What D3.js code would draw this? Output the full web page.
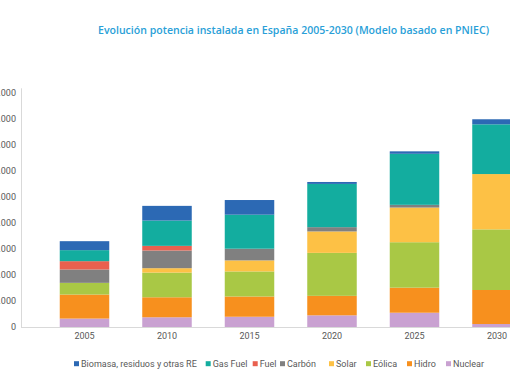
<!DOCTYPE html>
<html>
<head>
<meta charset="utf-8">
<script src="https://cdn.jsdelivr.net/npm/d3@7/dist/d3.min.js"></script>
<style>
  html, body { margin: 0; padding: 0; background: #ffffff; }
  svg { display: block; }
</style>
</head>
<body>
<svg id="chart" width="510" height="382"></svg>
<script>
const years = ["2005", "2010", "2015", "2020", "2025", "2030"];
const seriesNames = ["Nuclear", "Hidro", "Eólica", "Solar", "Carbón", "Fuel", "Gas Fuel", "Biomasa, residuos y otras RE"];
const nuclear  = [6500, 7500, 7900, 9000, 11000, 2300];
const hidro    = [18500, 15400, 15600, 15000, 19300, 26200];
const eolica   = [9000, 19000, 19300, 33100, 35000, 46700];
const solar    = [0, 3400, 8500, 16500, 26700, 42600];
const carbon   = [10300, 13600, 9000, 3300, 2100, 0];
const fuel     = [6400, 3600, 0, 0, 0, 0];
const gasFuel  = [8500, 19500, 26200, 33300, 39300, 38300];
const biomasa  = [6900, 11300, 11300, 1500, 1900, 3900];
const yTicks = [0, 20000, 40000, 60000, 80000, 100000, 120000, 140000, 160000, 180000];
const legendOrder = ["Biomasa, residuos y otras RE", "Gas Fuel", "Fuel", "Carbón", "Solar", "Eólica", "Hidro", "Nuclear"];
const titleText = "Evolución potencia instalada en España 2005-2030 (Modelo basado en PNIEC)";

const colors = {
  "Nuclear": "#c9a1d1",
  "Hidro": "#f7901e",
  "Eólica": "#a9c845",
  "Solar": "#fdc145",
  "Carbón": "#808080",
  "Fuel": "#e9604f",
  "Gas Fuel": "#13ad9f",
  "Biomasa, residuos y otras RE": "#2c69b4"
};

const valuesBySeries = [nuclear, hidro, eolica, solar, carbon, fuel, gasFuel, biomasa];
const table = years.map((yr, i) => {
  const row = { year: yr };
  seriesNames.forEach((s, j) => { row[s] = valuesBySeries[j][i]; });
  return row;
});

const svg = d3.select("#chart");
const textColor = "#595959";

const x = d3.scaleBand().domain(years).range([43.25, 538.25]).paddingInner(0.4).paddingOuter(0.2);
const y = d3.scaleLinear().domain([0, 180000]).range([327, 93.3]);

const stack = d3.stack().keys(seriesNames);
const stacked = stack(table);

// bars
svg.append("g").selectAll("g")
  .data(stacked)
  .join("g")
  .attr("fill", d => colors[d.key])
  .selectAll("rect")
  .data(d => d)
  .join("rect")
  .attr("x", d => x(d.data.year))
  .attr("width", x.bandwidth())
  .attr("y", d => y(d[1]))
  .attr("height", d => Math.max(0, y(d[0]) - y(d[1])));

// y axis line
svg.append("line")
  .attr("x1", 21.5).attr("x2", 21.5)
  .attr("y1", y(180000) - 5).attr("y2", y(0))
  .attr("stroke", "#d9d9d9").attr("stroke-width", 1);

// baseline
svg.append("line")
  .attr("x1", 21).attr("x2", 510)
  .attr("y1", y(0) + 0.5).attr("y2", y(0) + 0.5)
  .attr("stroke", "#d9d9d9").attr("stroke-width", 1);

// y tick labels
const fmt = v => v === 0 ? "0" : d3.format(",")(v).replace(/,/g, ".");
svg.append("g").selectAll("text")
  .data(yTicks)
  .join("text")
  .attr("x", 16)
  .attr("y", d => y(d))
  .attr("dy", "0.35em")
  .attr("text-anchor", "end")
  .attr("font-family", "Roboto, 'Open Sans', sans-serif")
  .attr("font-size", 9)
  .attr("fill", textColor)
  .text(fmt);

// x axis labels
const xAxis = d3.axisBottom(x).tickSize(0).tickPadding(6);
const gx = svg.append("g").attr("transform", `translate(0,${y(0)})`).call(xAxis);
gx.select(".domain").remove();
gx.selectAll("text")
  .attr("font-family", "Roboto, 'Open Sans', sans-serif")
  .attr("font-size", 9)
  .attr("fill", textColor);

// title
svg.append("text")
  .attr("x", 98)
  .attr("y", 30)
  .attr("dy", "0.35em")
  .attr("font-family", "'Open Sans', sans-serif")
  .attr("font-weight", 600)
  .attr("font-size", 11)
  .attr("fill", "#2a9fd8")
  .attr("textLength", 391)
  .attr("lengthAdjust", "spacingAndGlyphs")
  .text(titleText);

// legend
const legendX = [74, 205.7, 252.7, 280, 329, 366, 407, 446];
const legendY = 363.7;
const lg = svg.append("g").selectAll("g")
  .data(legendOrder)
  .join("g")
  .attr("transform", (d, i) => `translate(${legendX[i]},${legendY})`);
lg.append("rect")
  .attr("x", 0).attr("y", -2.5)
  .attr("width", 5).attr("height", 5)
  .attr("fill", d => colors[d]);
lg.append("text")
  .attr("x", 7)
  .attr("y", 0)
  .attr("dy", "0.35em")
  .attr("font-family", "Roboto, 'Open Sans', sans-serif")
  .attr("font-size", 9)
  .attr("fill", textColor)
  .text(d => d);
</script>
</body>
</html>
